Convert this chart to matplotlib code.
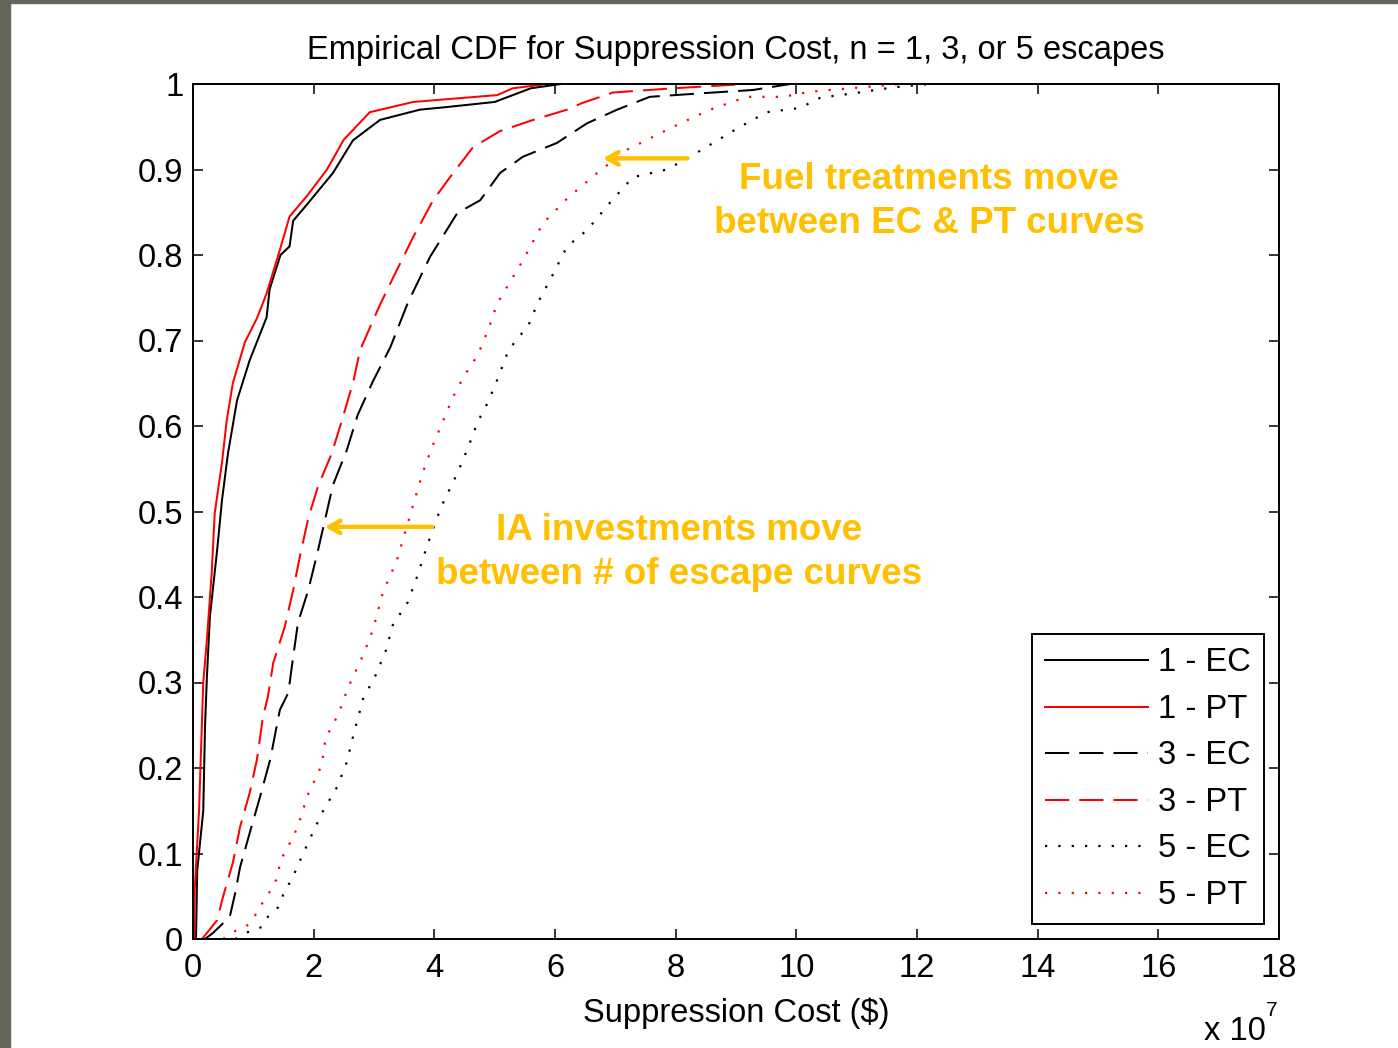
import matplotlib
matplotlib.use("Agg")
import matplotlib.pyplot as plt
from matplotlib.patches import Rectangle

plt.rcParams['font.family'] = ['Liberation Sans', 'DejaVu Sans']

# empirical CDFs: cost (x 1e7 $) and cumulative probability
ec1_x = [0.05, 0.07, 0.17, 0.2, 0.23, 0.28, 0.4, 0.48, 0.58, 0.73, 0.94, 1.22, 1.27, 1.45, 1.6, 1.66,
         1.9, 2.32, 2.65, 3.1, 3.76, 4.2, 5.0, 5.6, 6.1]
ec1_y = [0.0, 0.08, 0.15, 0.25, 0.306, 0.377, 0.455, 0.513, 0.568, 0.63, 0.677, 0.727, 0.76, 0.8, 0.81, 0.84,
         0.86, 0.896, 0.934, 0.958, 0.97, 0.973, 0.979, 0.995, 1.0]

pt1_x = [0.02, 0.03, 0.1, 0.17, 0.23, 0.31, 0.36, 0.48, 0.56, 0.66, 0.86, 1.06, 1.22, 1.44, 1.6, 1.9,
         2.22, 2.5, 2.93, 3.65, 5.04, 5.3, 5.87]
pt1_y = [0.0, 0.06, 0.15, 0.3, 0.35, 0.428, 0.498, 0.557, 0.607, 0.65, 0.698, 0.726, 0.755, 0.806, 0.845, 0.87,
         0.9, 0.935, 0.967, 0.979, 0.987, 0.995, 1.0]

ec3_x = [0.2, 0.33, 0.61, 0.7, 0.78, 0.94, 1.11, 1.28, 1.44, 1.58, 1.66, 1.74, 1.91, 2.06, 2.2, 2.32, 2.55,
         2.73, 2.98, 3.27, 3.56, 3.93, 4.38, 4.76, 5.09, 5.47, 6.03, 6.53, 7.03, 7.57, 8.4, 9.28, 9.9]
ec3_y = [0.0, 0.007, 0.026, 0.054, 0.084, 0.124, 0.166, 0.21, 0.268, 0.288, 0.33, 0.37, 0.408, 0.451, 0.494,
         0.531, 0.572, 0.613, 0.652, 0.692, 0.744, 0.798, 0.849, 0.864, 0.896, 0.915, 0.931, 0.954, 0.97, 0.985,
         0.989, 0.993, 1.0]

pt3_x = [0.15, 0.23, 0.4, 0.5, 0.66, 0.78, 0.94, 1.06, 1.16, 1.24, 1.33, 1.52, 1.66, 1.77, 1.91, 2.07, 2.3,
         2.47, 2.65, 2.77, 3.1, 3.32, 3.65, 3.98, 4.26, 4.64, 5.09, 5.64, 6.2, 6.46, 6.96, 7.96, 9.18]
pt3_y = [0.0, 0.007, 0.022, 0.05, 0.089, 0.131, 0.171, 0.21, 0.26, 0.283, 0.323, 0.365, 0.408, 0.447, 0.492,
         0.529, 0.568, 0.607, 0.65, 0.689, 0.742, 0.774, 0.821, 0.864, 0.891, 0.926, 0.945, 0.958, 0.97, 0.978,
         0.99, 0.995, 1.0]

ec5_x = [0.7, 0.91, 1.14, 1.24, 1.41, 1.49, 1.61, 1.71, 1.8, 1.97, 2.15, 2.39, 2.55, 2.65, 2.82, 3.03, 3.2,
         3.31, 3.56, 3.71, 3.9, 4.11, 4.39, 4.56, 4.72, 4.89, 5.06, 5.22, 5.37, 5.55, 5.72, 5.92, 6.2, 6.53,
         6.91, 7.29, 7.86, 8.24, 8.62, 9.07, 9.51, 10.06, 10.4, 10.94, 11.6, 12.2]
ec5_y = [0.0, 0.008, 0.014, 0.026, 0.037, 0.051, 0.067, 0.081, 0.096, 0.122, 0.149, 0.178, 0.207, 0.236,
         0.281, 0.309, 0.338, 0.367, 0.394, 0.423, 0.464, 0.505, 0.546, 0.575, 0.605, 0.628, 0.657, 0.687,
         0.702, 0.716, 0.745, 0.771, 0.81, 0.829, 0.861, 0.891, 0.9, 0.915, 0.931, 0.95, 0.967, 0.972, 0.984,
         0.989, 0.996, 1.0]

pt5_x = [0.5, 0.66, 0.9, 1.0, 1.08, 1.22, 1.33, 1.41, 1.44, 1.54, 1.66, 1.74, 1.82, 1.87, 1.96, 2.07, 2.14,
         2.2, 2.32, 2.49, 2.55, 2.82, 2.98, 3.15, 3.38, 3.63, 3.81, 3.96, 4.14, 4.31, 4.48, 4.72, 4.89, 5.04,
         5.14, 5.47, 5.8, 6.2, 6.7, 7.19, 7.62, 7.96, 8.57, 9.18, 9.78, 10.23, 10.89, 11.72]
pt5_y = [0.0, 0.008, 0.016, 0.024, 0.034, 0.05, 0.061, 0.075, 0.09, 0.104, 0.119, 0.133, 0.149, 0.163,
         0.178, 0.192, 0.207, 0.236, 0.25, 0.277, 0.291, 0.332, 0.361, 0.406, 0.443, 0.503, 0.546, 0.575,
         0.605, 0.634, 0.657, 0.683, 0.712, 0.743, 0.755, 0.794, 0.837, 0.866, 0.896, 0.923, 0.938, 0.95,
         0.97, 0.985, 0.985, 0.991, 0.995, 1.0]

x_ticks = list(range(0, 19, 2))
y_ticks = [0, 0.1, 0.2, 0.3, 0.4, 0.5, 0.6, 0.7, 0.8, 0.9, 1]
y_tick_labels = ['0', '0.1', '0.2', '0.3', '0.4', '0.5', '0.6', '0.7', '0.8', '0.9', '1']

orange = '#FFC000'
dash = (0, (12, 5))
dot = (0, (1, 5))
fs = 23.5

fig = plt.figure(figsize=(13.98, 10.48), dpi=100)
fig.patch.set_facecolor('white')
# dark frame of the slide on the left and top
fig.patches.append(Rectangle((0, 0), 10 / 1398, 1, transform=fig.transFigure, color='#65655a', zorder=0))
fig.patches.append(Rectangle((0, 1 - 3 / 1048), 1, 3 / 1048, transform=fig.transFigure, color='#65655a', zorder=0))

ax = fig.add_axes([193 / 1398, 1 - 939 / 1048, (1279 - 193) / 1398, (939 - 84) / 1048])

ax.plot(ec1_x, ec1_y, color='black', lw=1.45, label='1 - EC')
ax.plot(pt1_x, pt1_y, color='red', lw=1.45, label='1 - PT')
ax.plot(ec3_x, ec3_y, color='black', lw=1.45, linestyle=dash, label='3 - EC')
ax.plot(pt3_x, pt3_y, color='red', lw=1.45, linestyle=dash, label='3 - PT')
ax.plot(ec5_x, ec5_y, color='black', lw=1.6, linestyle=dot, label='5 - EC')
ax.plot(pt5_x, pt5_y, color='red', lw=1.6, linestyle=dot, label='5 - PT')

ax.set_xlim(0, 18)
ax.set_ylim(0, 1)
ax.set_xticks(x_ticks)
ax.set_yticks(y_ticks)
ax.set_yticklabels(y_tick_labels)
ax.tick_params(direction='in', length=7, width=1.1, top=True, right=True, labelsize=fs)
ax.tick_params(axis='x', pad=10)
ax.tick_params(axis='y', pad=7)
for s in ax.spines.values():
    s.set_linewidth(1.4)

ax.set_title('Empirical CDF for Suppression Cost, n = 1, 3, or 5 escapes', fontsize=fs, pad=18)
ax.set_xlabel('Suppression Cost ($)', fontsize=fs, labelpad=10)
fig.text(1204 / 1398, 1 - 1040 / 1048, 'x 10', fontsize=fs, ha='left', va='baseline')
fig.text(1266 / 1398, 1 - 1016 / 1048, '7', fontsize=15, ha='left', va='baseline')

leg = ax.legend(loc='lower right', bbox_to_anchor=(1264 / 1398, 1 - 924 / 1048), bbox_transform=fig.transFigure,
                borderaxespad=0, fontsize=fs, handlelength=3.15, handletextpad=0.3, labelspacing=0.475,
                fancybox=False, framealpha=1, edgecolor='black', borderpad=0.4)
leg.get_frame().set_linewidth(1.4)

ax.annotate('', xy=(6.75, 0.913), xytext=(8.24, 0.913),
            arrowprops=dict(arrowstyle='->, head_length=0.8, head_width=0.45', color=orange, lw=3.2))
ax.annotate('', xy=(2.14, 0.482), xytext=(4.01, 0.482),
            arrowprops=dict(arrowstyle='->, head_length=0.8, head_width=0.45', color=orange, lw=3.2))
ax.text(12.2, 0.8625, 'Fuel treatments move\nbetween EC & PT curves', color=orange, fontsize=26.5,
        fontweight='bold', ha='center', va='center', linespacing=1.33)
ax.text(8.06, 0.4525, 'IA investments move\nbetween # of escape curves', color=orange, fontsize=26.5,
        fontweight='bold', ha='center', va='center', linespacing=1.33)

fig.savefig('out.png', dpi=100)
